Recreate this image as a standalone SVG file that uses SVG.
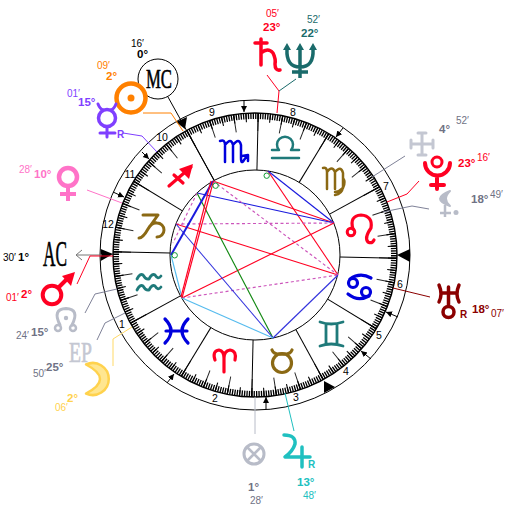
<svg xmlns="http://www.w3.org/2000/svg" width="510" height="510" viewBox="0 0 510 510">
<style>
text{font-family:"Liberation Sans",Arial,sans-serif}
.d{font-size:11.500px;font-weight:bold}
.m{font-size:10px}
.h{font-size:10.500px;fill:#000;text-anchor:middle}
.cap{font-family:"Liberation Serif","Times New Roman",serif;stroke-width:.6}
.g{fill:none;stroke-linecap:round;stroke-linejoin:round}
.sp line{stroke:#000;stroke-width:1}
.ln{fill:none;stroke-width:1}
.a line{stroke-width:1.15}
.dash{stroke:#cc55bb;stroke-dasharray:3 2.5}
.arr{stroke:#000;stroke-width:1;marker-end:url(#ah)}
</style>
<defs>
<marker id="ah" markerUnits="userSpaceOnUse" markerWidth="7" markerHeight="7" refX="6" refY="3" orient="auto"><path d="M0 0L6 3L0 6Z" fill="#000"/></marker>
</defs>
<rect width="510" height="510" fill="#fff"/>

<g id="wheel">
<circle cx="255" cy="255" r="155" fill="#fff" stroke="#000"/>
<g transform="rotate(1.3 255 255)" fill="none" stroke="#000">
<circle cx="255" cy="255" r="139" stroke-width="6" pathLength="360" stroke-dasharray=".55 .45" stroke-dashoffset=".275"/>
<circle cx="255" cy="255" r="137.500" stroke-width="9" pathLength="360" stroke-dasharray=".45 4.55" stroke-dashoffset=".225"/>
<circle cx="255" cy="255" r="133" stroke-width="18" stroke-opacity=".85" pathLength="360" stroke-dasharray=".42 9.58" stroke-dashoffset=".21"/>
</g>
<circle cx="255" cy="255" r="142" fill="none" stroke="#000" stroke-width="1.400"/>
<circle cx="255" cy="255" r="85" fill="#fff" stroke="#000"/>
<g class="sp" transform="rotate(1.3 255 255)">
<line x1="340" y1="255" x2="397" y2="255"/>
<line x1="340" y1="255" x2="397" y2="255" transform="rotate(30 255 255)"/>
<line x1="340" y1="255" x2="397" y2="255" transform="rotate(60 255 255)"/>
<line x1="340" y1="255" x2="397" y2="255" transform="rotate(90 255 255)"/>
<line x1="340" y1="255" x2="397" y2="255" transform="rotate(120 255 255)"/>
<line x1="340" y1="255" x2="397" y2="255" transform="rotate(150 255 255)"/>
<line x1="340" y1="255" x2="397" y2="255" transform="rotate(180 255 255)"/>
<line x1="340" y1="255" x2="397" y2="255" transform="rotate(210 255 255)"/>
<line x1="340" y1="255" x2="397" y2="255" transform="rotate(240 255 255)"/>
<line x1="340" y1="255" x2="397" y2="255" transform="rotate(270 255 255)"/>
<line x1="340" y1="255" x2="397" y2="255" transform="rotate(300 255 255)"/>
<line x1="340" y1="255" x2="397" y2="255" transform="rotate(330 255 255)"/>
</g>
<path d="M100.700 249L113 254L100.700 261Z"/>
<path d="M397 255L410 249L410 262Z"/>
<path d="M176 122L187 117L185 129Z"/>
<path d="M324 381L335 387L324 393Z"/>
<text class="h" x="122" y="328">1</text><text class="h" x="215" y="402">2</text><text class="h" x="296" y="401">3</text><text class="h" x="346" y="375">4</text><text class="h" x="379" y="339">5</text><text class="h" x="400" y="288">6</text><text class="h" x="386" y="190">7</text><text class="h" x="293" y="116">8</text><text class="h" x="212" y="116">9</text><text class="h" x="162" y="141">10</text><text class="h" x="130" y="178">11</text><text class="h" x="108" y="228">12</text>
</g>

<g id="connectors">
<g class="a">
<line x1="268" y1="171" x2="338" y2="275" stroke="#ff0022" stroke-width="1.300"/>
<line x1="268" y1="171" x2="334" y2="223" stroke="#1a1add" stroke-width="1.300"/>
<line x1="213" y1="181" x2="334" y2="223" stroke="#ff0022"/>
<line x1="197" y1="193" x2="334" y2="223" stroke="#1a1add"/>
<line x1="176" y1="224" x2="334" y2="223" class="dash"/>
<line x1="176" y1="224" x2="338" y2="275" stroke="#ff0022"/>
<line x1="213" y1="181" x2="338" y2="275" class="dash"/>
<line x1="182" y1="298" x2="334" y2="223" stroke="#ff0022"/>
<line x1="182" y1="298" x2="338" y2="275" class="dash"/>
<line x1="197" y1="193" x2="273" y2="338" stroke="#118811"/>
<line x1="176" y1="224" x2="273" y2="338" stroke="#3333dd"/>
<line x1="273" y1="338" x2="338" y2="275" stroke="#3333dd"/>
<line x1="182" y1="298" x2="273" y2="338" stroke="#55bbee"/>
<line x1="171" y1="255" x2="182" y2="298" stroke="#55bbee"/>
<line x1="171" y1="255" x2="213" y2="181" stroke="#1a1add" style="stroke-width:2"/>
<line x1="213.500" y1="181" x2="182" y2="298" stroke="#ff0022"/>
<line x1="211" y1="181" x2="181" y2="297" stroke="#ff0022"/>
<line x1="197" y1="193" x2="173" y2="243" class="dash"/>
</g>
<circle cx="215.600" cy="185.700" r="2.700" fill="none" stroke="#119933"/>
<circle cx="266.700" cy="175.700" r="2.700" fill="none" stroke="#119933"/>
<circle cx="174.700" cy="255.300" r="2.700" fill="none" stroke="#119933"/>
<line class="arr" x1="167" y1="383" x2="174" y2="374"/>
<line class="arr" x1="266" y1="409" x2="266" y2="397"/>
<line class="arr" x1="371" y1="359" x2="361" y2="351"/>
<line class="arr" x1="398" y1="317" x2="386" y2="312"/>
<line class="arr" x1="343" y1="128" x2="336" y2="137"/>
<line class="arr" x1="244" y1="100" x2="244" y2="112"/>
<line class="arr" x1="142" y1="152" x2="149" y2="159"/>
<line class="arr" x1="113" y1="192" x2="124" y2="197"/>
<path class="ln" stroke="#7f3fff" d="M123 133L142 136L157 152"/>
<path class="ln" stroke="#ff8000" d="M143 113H171L183 131"/>
<path class="ln" stroke="#ff73c8" d="M87 190L122 203"/>
<path class="ln" stroke="#ff0022" d="M267 75L279 91L277 113"/>
<path class="ln" stroke="#1a6b6b" d="M296 79L279 91"/>
<path class="ln" stroke="#7f8298" d="M405 156L372 177"/>
<path class="ln" stroke="#ff0022" d="M419 181L407 194L387 202"/>
<path class="ln" stroke="#7f8298" d="M429 209L412 206L383 212"/>
<path class="ln" stroke="#8b0000" d="M430 297L393 288"/>
<path class="ln" stroke="#20c0c0" d="M294 431L285 393"/>
<path class="ln" stroke="#b8bcc8" stroke-width="2" d="M255 434V397"/>
<path class="ln" stroke="#ffd966" d="M113 366V339L132 327"/>
<path class="ln" stroke="#7f8298" d="M97 340L105 323L125 313"/>
<path class="ln" stroke="#7f8298" d="M85 313L95 294L117 289"/>
<path class="ln" stroke="#777" stroke-width="2" d="M76 255H102"/>
<path class="ln" stroke="#777" stroke-width="1.500" d="M82 250L76 255L82 260"/>
<path class="ln" stroke="#ff0022" d="M77 284L90 256H113"/>
<path class="ln" stroke="#000" d="M168 97L214 180"/>
</g>

<g id="sign-scorpio"><path class="g" stroke="#0000dd" stroke-width="2.500" d="M220 141Q225 139 225 145V162M225 145Q231 137 233 145V162M233 145Q239 137 241 145V158Q241 165 244 160L247 156M242 156L248 155L248 161"/></g>
<g id="sign-libra"><path class="g" stroke="#1f7a7a" stroke-width="2.500" d="M272 150H279A8 8 0 1 1 291 150H299M272 158H299"/></g>
<g id="sign-virgo"><path class="g" stroke="#8b6914" stroke-width="2.500" d="M323 168Q327 167 327 172V189M327 172Q332 165 335 172V189M335 172Q341 165 343 173V187Q342 194 335 195M343 178Q346 182 343 188Q339 192 335 192"/></g>
<g id="sign-leo"><circle cx="351" cy="232" r="3.800" fill="none" stroke="#ff0022" stroke-width="3"/><path class="g" stroke="#ff0022" stroke-width="3.200" d="M353 229Q349 216 361 215Q373 216 371 228Q364 238 368 242Q372 244 374 240"/></g>
<g id="sign-cancer"><g fill="none" stroke="#0000dd" stroke-width="3.200"><circle cx="353" cy="283" r="4.500"/><circle cx="366" cy="292" r="4.500"/><path stroke-linecap="round" d="M350 279Q360 272 371 278M369 296Q358 302 348 294"/></g></g>
<g id="sign-gemini"><path class="g" stroke="#1f7a7a" stroke-width="2.800" d="M320 322Q331 326 343 322M320 346Q331 342 343 346M326 324V344M337 324V344"/></g>
<g id="sign-taurus"><circle cx="282" cy="363" r="9.500" fill="none" stroke="#8b6914" stroke-width="3.200"/><path class="g" stroke="#8b6914" stroke-width="3.200" d="M272 350Q274 355 282 354Q290 355 292 350"/></g>
<g id="sign-aries"><path class="g" stroke="#ff0022" stroke-width="3.200" d="M215 360Q212 351 219 350Q224 351 224 358V372M224 358Q224 351 230 350Q237 351 235 360"/></g>
<g id="sign-pisces"><path class="g" stroke="#0000dd" stroke-width="3.200" d="M165 319Q177 331 165 343M188 319Q176 331 188 343M166 331H187"/></g>
<g id="sign-aquarius"><path class="g" stroke="#1f7a7a" stroke-width="2.800" d="M137 279Q140 273 143 275Q146 280 149 279Q152 273 155 275Q158 280 161 276M137 290Q140 284 143 286Q146 291 149 290Q152 284 155 286Q158 291 161 287"/></g>
<g id="sign-capricorn"><path class="g" stroke="#8b6914" stroke-width="3" d="M143 215H158L148 229Q143 238 139 238M148 229Q152 222 157 223A7 7 0 0 1 157 237"/></g>
<g id="sign-sagittarius"><path class="g" stroke="#ff0022" stroke-width="3.200" d="M169 186L191 167M174 175L183 183"/><path d="M193 164L179 169L189 179Z" fill="#ff0022"/></g>

<g id="mc">
<circle cx="158" cy="79" r="20" fill="#fff" stroke="#000"/>
<text class="cap" x="146" y="88" font-size="28" textLength="26" lengthAdjust="spacingAndGlyphs" stroke="#000">MC</text>
<text class="m" x="131" y="47">16′</text><text class="d" x="137" y="58">0°</text>
</g>
<g id="sun">
<circle cx="131" cy="98" r="14.500" fill="#fff" stroke="#ff8000" stroke-width="4.500"/><circle cx="131" cy="98" r="3.500" fill="#ff8000"/>
<text class="m" x="97" y="69" fill="#ff8000">09′</text><text class="d" x="106" y="80" fill="#ff8000">2°</text>
</g>
<g id="mercury" fill="#7f3fff">
<path class="g" stroke="#7f3fff" stroke-width="3" d="M98 104Q100 109 103 110M116 104Q114 109 111 110M107 127V137M100 133H115"/>
<circle cx="107" cy="118" r="8.500" fill="none" stroke="#7f3fff" stroke-width="3.500"/>
<text class="m" x="67" y="97">01′</text><text class="d" x="78" y="106">15°</text><text x="117" y="138" font-size="10" font-weight="bold">R</text>
</g>
<g id="venus" fill="#ff73c8">
<circle cx="68" cy="177" r="9" fill="none" stroke="#ff73c8" stroke-width="4.500"/>
<path stroke="#ff73c8" stroke-width="4" d="M68 187V201M60 194H76"/>
<text class="m" x="19" y="173">28′</text><text class="d" x="34" y="178">10°</text>
</g>
<g id="ac">
<text class="cap" x="43" y="266" font-size="35" textLength="24" lengthAdjust="spacingAndGlyphs" stroke="#000">AC</text>
<text class="m" x="3" y="261">30′</text><text class="d" x="18" y="261">1°</text>
</g>
<g id="mars" fill="#ff0022">
<circle cx="52" cy="295" r="9.300" fill="none" stroke="#ff0022" stroke-width="4"/>
<path stroke="#ff0022" stroke-width="4" d="M58 288L70 276"/><path d="M75 272L62 276L71 286Z"/>
<text class="m" x="6" y="301">01′</text><text class="d" x="21" y="298">2°</text>
</g>
<g id="node" fill="#6f7285">
<path class="g" stroke="#b8bcc8" stroke-width="3" d="M60 325Q52 309 66 308.500Q80 309 72 325"/>
<circle cx="58" cy="328" r="3" fill="none" stroke="#b8bcc8" stroke-width="2.500"/><circle cx="73" cy="328" r="3" fill="none" stroke="#b8bcc8" stroke-width="2.500"/><circle cx="66" cy="318" r="2.200" fill="#b8bcc8"/>
<text class="m" x="16" y="339">24′</text><text class="d" x="31" y="336">15°</text>
</g>
<g id="ep" fill="#6f7285">
<text class="cap" x="69" y="362" font-size="30" textLength="23" lengthAdjust="spacingAndGlyphs" fill="#c4c7d2" stroke="#c4c7d2">EP</text>
<text class="m" x="33" y="377">50′</text><text class="d" x="46" y="371">25°</text>
</g>
<g id="moon">
<path d="M86 364.500A16 16 0 1 1 86 393.500Q114 379 86 364.500Z" fill="#ffe690" stroke="#ffd24d" stroke-width="2.500" stroke-linejoin="round"/>
<text class="m" x="55" y="411" fill="#ffd24d">06′</text><text class="d" x="67" y="402" fill="#ffd24d">2°</text>
</g>
<g id="vertex" fill="#6f7285">
<circle cx="254" cy="454" r="10" fill="none" stroke="#b8bcc8" stroke-width="3"/>
<path stroke="#b8bcc8" stroke-width="2.500" d="M247 447L261 461M261 447L247 461"/>
<text class="d" x="248" y="491">1°</text><text class="m" x="250" y="504">28′</text>
</g>
<g id="jupiter" fill="#20c0c0">
<path class="g" stroke="#20c0c0" stroke-width="3.500" d="M284 435Q296 435 295 444Q293 451 285 457H310M302 447V467"/>
<text class="d" x="297" y="486">13°</text><text class="m" x="303" y="499">48′</text><text x="308" y="468" font-size="10" font-weight="bold">R</text>
</g>
<g id="uranus" fill="#8b0000">
<path class="g" stroke="#8b0000" stroke-width="3.500" d="M439 285Q443 294 439 302M459 285Q455 294 459 302M441 293H457M448.500 287V305"/>
<circle cx="448.500" cy="312" r="5.500" fill="none" stroke="#8b0000" stroke-width="3.500"/>
<text x="460" y="318" font-size="10" font-weight="bold">R</text><text class="d" x="472" y="313">18°</text><text class="m" x="491" y="317">07′</text>
</g>
<g id="lilith" fill="#6f7285">
<path d="M450 191Q430 199 450 206Q442 199 450 191Z" fill="#b8bcc8" stroke="#b8bcc8" stroke-width="2" stroke-linejoin="round"/>
<path stroke="#b8bcc8" stroke-width="2.500" d="M445 205V217M440 213H451"/><circle cx="456" cy="212.500" r="2.500" fill="#b8bcc8"/>
<text class="d" x="471" y="203">18°</text><text class="m" x="490" y="198">49′</text>
</g>
<g id="pluto" fill="#ff0022">
<circle cx="437" cy="162" r="5" fill="none" stroke="#ff0022" stroke-width="3"/>
<path class="g" stroke="#ff0022" stroke-width="4" d="M425 163A12.500 12.500 0 0 0 450 163M437 176V189M431 185H444"/>
<text class="d" x="458" y="167">23°</text><text class="m" x="477" y="161">16′</text>
</g>
<g id="chiron" fill="#6f7285">
<path class="g" stroke="#c4c7d2" stroke-width="3" d="M422 134V154M412 144H432M418 133H426M418 155H426M411 140V148M433 140V148"/>
<text class="d" x="439" y="133">4°</text><text class="m" x="456" y="124">52′</text>
</g>
<g id="saturn" fill="#ff0022">
<path class="g" stroke="#ff0022" stroke-width="3.500" d="M261 39V65M255 43H267M261 53Q268 47 273 53Q276 59 275 64Q275 71 280 70"/>
<text class="m" x="266" y="17">05′</text><text class="d" x="263" y="31">23°</text>
</g>
<g id="neptune" fill="#1a6b6b">
<path fill="none" stroke="#1a6b6b" stroke-width="3.500" d="M300 47V78M292 72H308M287 49Q286 67 300 67Q314 67 313 49"/>
<path d="M287 43L283 50H291ZM300 43L296 50H304ZM313 43L309 50H317Z"/>
<text class="m" x="307" y="23">52′</text><text class="d" x="301" y="37">22°</text>
</g>
</svg>
